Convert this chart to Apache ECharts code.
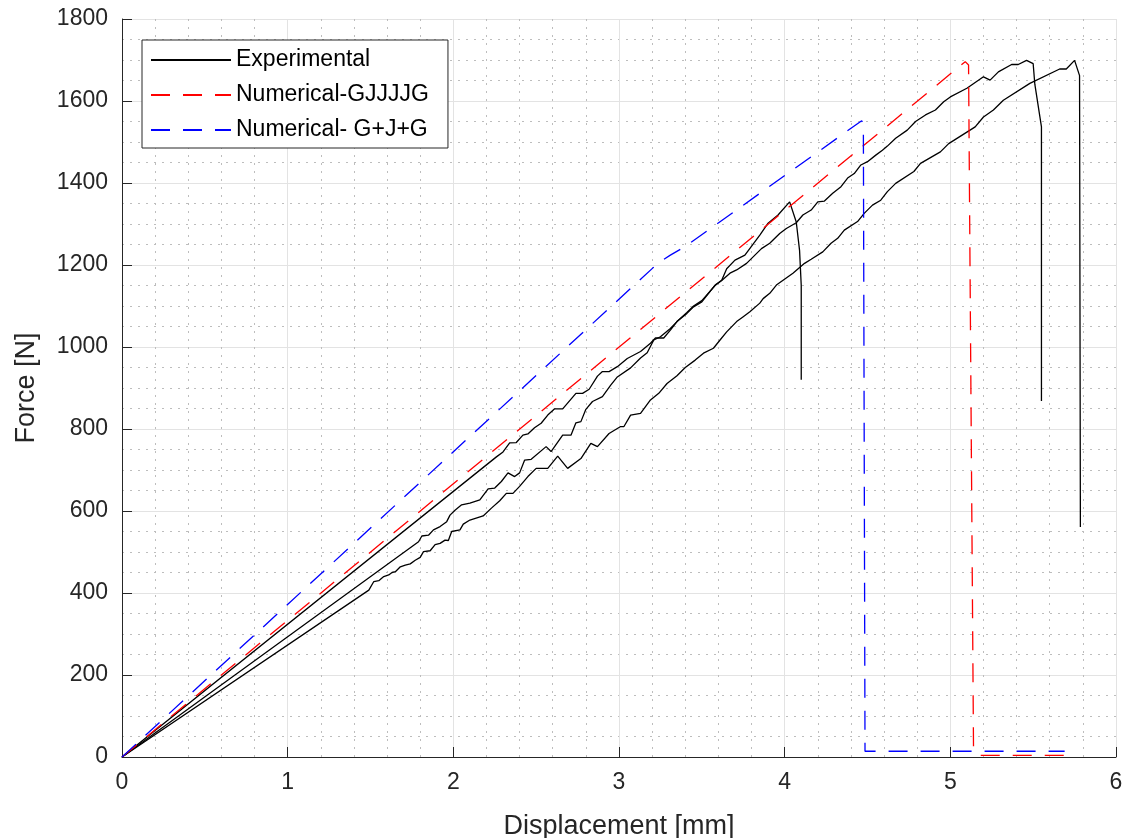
<!DOCTYPE html>
<html>
<head>
<meta charset="utf-8">
<script src="https://cdn.jsdelivr.net/npm/echarts@6/dist/echarts.min.js"></script>
<style>
html,body{margin:0;padding:0;background:#fff;}
#chart{width:1129px;height:838px;}
</style>
</head>
<body>
<div id="chart"></div>
<script>
// Data (displacement [mm], force [N])
const expShort = [[0,0],[2.26,732],[2.30,744],[2.34,766],[2.38,767],[2.42,785],[2.45,788],[2.49,803],[2.53,814],[2.57,834],[2.61,849],[2.66,849],[2.74,887],[2.78,887],[2.82,897],[2.87,929],[2.90,940],[2.94,940],[2.99,952],[3.05,972],[3.13,989],[3.19,1009],[3.22,1022],[3.27,1022],[3.31,1041],[3.35,1062],[3.41,1082],[3.45,1098],[3.50,1110],[3.58,1151],[3.62,1163],[3.65,1191],[3.70,1212],[3.76,1224],[3.85,1273],[3.90,1302],[3.96,1322],[4.03,1354],[4.07,1305],[4.09,1235],[4.10,1150],[4.10,920]];
const expMid = [[0,0],[1.79,525],[1.81,539],[1.85,541],[1.88,554],[1.92,562],[1.96,574],[1.98,590],[2.01,602],[2.05,615],[2.10,619],[2.16,627],[2.21,654],[2.25,656],[2.29,672],[2.33,693],[2.37,684],[2.40,693],[2.43,724],[2.47,726],[2.56,757],[2.59,745],[2.66,785],[2.71,785],[2.74,815],[2.77,818],[2.80,848],[2.84,867],[2.90,879],[2.95,907],[2.99,927],[3.07,949],[3.13,973],[3.17,986],[3.21,1017],[3.25,1025],[3.31,1045],[3.35,1062],[3.41,1084],[3.45,1100],[3.50,1113],[3.58,1150],[3.62,1162],[3.67,1180],[3.71,1188],[3.77,1204],[3.86,1240],[3.91,1253],[3.97,1277],[4.01,1289],[4.07,1303],[4.11,1322],[4.16,1334],[4.20,1354],[4.24,1356],[4.29,1375],[4.34,1391],[4.38,1412],[4.42,1423],[4.46,1444],[4.50,1452],[4.55,1468],[4.59,1480],[4.62,1490],[4.67,1509],[4.74,1529],[4.79,1550],[4.85,1566],[4.91,1578],[4.96,1598],[5.00,1610],[5.10,1631],[5.20,1659],[5.24,1651],[5.29,1671],[5.37,1689],[5.41,1689],[5.46,1699],[5.50,1691],[5.51,1641],[5.55,1537],[5.55,868]];
const expLow = [[0,0],[1.49,407],[1.52,428],[1.55,430],[1.58,440],[1.61,444],[1.63,450],[1.65,452],[1.68,464],[1.71,468],[1.74,471],[1.77,480],[1.80,487],[1.82,501],[1.86,503],[1.89,518],[1.92,521],[1.95,529],[1.97,528],[1.99,550],[2.04,554],[2.06,568],[2.10,578],[2.18,588],[2.23,607],[2.28,625],[2.32,643],[2.36,643],[2.40,660],[2.45,684],[2.50,704],[2.57,704],[2.63,734],[2.69,704],[2.77,728],[2.83,765],[2.87,757],[2.94,789],[3.01,806],[3.03,806],[3.07,834],[3.13,838],[3.19,871],[3.24,887],[3.29,911],[3.35,930],[3.40,950],[3.46,968],[3.51,985],[3.57,997],[3.61,1017],[3.65,1037],[3.71,1062],[3.75,1074],[3.79,1086],[3.85,1107],[3.87,1118],[3.91,1131],[3.95,1151],[4.05,1180],[4.12,1204],[4.16,1214],[4.23,1232],[4.28,1253],[4.32,1265],[4.36,1285],[4.44,1306],[4.48,1326],[4.53,1346],[4.58,1358],[4.62,1379],[4.67,1399],[4.78,1428],[4.82,1448],[4.94,1476],[4.99,1496],[5.15,1537],[5.20,1561],[5.26,1578],[5.32,1602],[5.48,1643],[5.66,1678],[5.70,1678],[5.75,1699],[5.78,1662],[5.785,561]];
const numGJJJJG = [[0,0],[5.09,1696],[5.11,1688],[5.14,20],[5.17,4],[5.69,4]];
const numGJG = [[0,0],[3.24,1206],[3.31,1224],[3.40,1245],[4.465,1552],[4.475,1543],[4.485,14],[5.69,14]];
const legendNames = ['Experimental','Numerical-GJJJJG','Numerical- G+J+G'];
const xTitle = 'Displacement [mm]';
const yTitle = 'Force [N]';

const FONT = '"Liberation Sans", Arial, Helvetica, sans-serif';
const AX = '#262626';
const dash = [19,13];

const chart = echarts.init(document.getElementById('chart'), null, {renderer:'canvas'});
function expSeries(d){
  return {name: legendNames[0], type:'line', data:d, showSymbol:false, symbol:'none',
    lineStyle:{color:'#000', width:1.3}, itemStyle:{color:'#000'}, z:3};
}
chart.setOption({
  animation:false,
  backgroundColor:'#fff',
  grid:{left:122, right:13, top:19, bottom:81, containLabel:false, outerBoundsMode:'none'},
  legend:{
    data:legendNames, orient:'vertical', left:142, top:40,
    itemWidth:80, itemHeight:14, itemGap:11,
    padding:[8,19,6,8],
    backgroundColor:'#fff', borderColor:AX, borderWidth:1, borderRadius:0,
    itemStyle:{opacity:0},
    textStyle:{fontFamily:FONT, fontSize:23, color:'#000', lineHeight:24},
    selectedMode:false
  },
  xAxis:{
    type:'value', min:0, max:6, interval:1,
    name:xTitle, nameLocation:'middle', nameGap:56,
    nameTextStyle:{fontFamily:FONT, fontSize:27, color:AX},
    axisLine:{show:true, onZero:false, lineStyle:{color:AX, width:1}},
    axisTick:{show:true, inside:true, length:10, lineStyle:{color:AX}},
    axisLabel:{fontFamily:FONT, fontSize:23, color:AX, margin:14, formatter:(v)=>String(v)},
    splitLine:{show:true, lineStyle:{color:'#e3e3e3', width:1}},
    minorTick:{show:false, splitNumber:5},
    minorSplitLine:{show:true, lineStyle:{color:'#bdbdbd', width:1, type:[2,6]}}
  },
  yAxis:{
    type:'value', min:0, max:1800, interval:200,
    name:yTitle, nameLocation:'middle', nameGap:82, nameRotate:90,
    nameTextStyle:{fontFamily:FONT, fontSize:27, color:AX},
    axisLine:{show:true, onZero:false, lineStyle:{color:AX, width:1}},
    axisTick:{show:true, inside:true, length:10, lineStyle:{color:AX}},
    axisLabel:{fontFamily:FONT, fontSize:23, color:AX, margin:14, formatter:(v)=>String(v)},
    splitLine:{show:true, lineStyle:{color:'#e3e3e3', width:1}},
    minorTick:{show:false, splitNumber:4},
    minorSplitLine:{show:true, lineStyle:{color:'#bdbdbd', width:1, type:[2,6]}}
  },
  series:[
    expSeries(expShort),
    expSeries(expMid),
    expSeries(expLow),
    {name:legendNames[1], type:'line', data:numGJJJJG, showSymbol:false, symbol:'none',
      lineStyle:{color:'#ff0000', width:1.3, type:dash}, itemStyle:{color:'#ff0000'}, z:4},
    {name:legendNames[2], type:'line', data:numGJG, showSymbol:false, symbol:'none',
      lineStyle:{color:'#0000ff', width:1.3, type:dash}, itemStyle:{color:'#0000ff'}, z:4}
  ]
});
</script>
</body>
</html>
